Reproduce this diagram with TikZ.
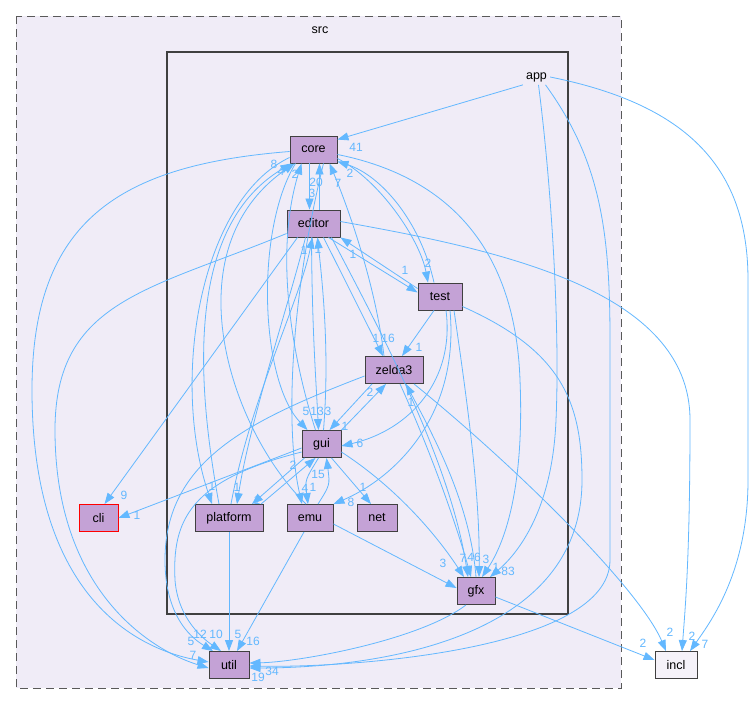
\documentclass[tikz,border=0pt]{standalone}
\usepackage{fontspec}
\setmainfont{Liberation Sans}
\usetikzlibrary{arrows.meta}
\definecolor{edgec}{HTML}{63B8FF}
\definecolor{clfill}{HTML}{F0ECF7}
\definecolor{nodefill}{HTML}{C4A2D6}
\definecolor{nodebord}{HTML}{404040}
\definecolor{exfill}{HTML}{F5F2F9}
\newcommand{\nodefnt}{\fontsize{12.5}{14}\selectfont}
\newcommand{\labfnt}{\fontsize{12}{13}\selectfont}
\begin{document}
\begin{tikzpicture}[x=1pt,y=-1pt,
  dir/.style={draw=nodebord, fill=nodefill, minimum height=27pt, inner sep=0pt, font=\nodefnt, line width=0.9pt},
  e/.style={draw=edgec, line width=0.8pt, -{Triangle[length=11pt,width=8pt]}},
  lab/.style={text=edgec, font=\labfnt, inner sep=0pt}]
\useasboundingbox (0,0) rectangle (755,705);
\fill[white] (0,0) rectangle (755,705);
% clusters
\draw[fill=clfill, draw=black!65, line width=1pt, dash pattern=on 8pt off 5pt] (16,16) rectangle (621,688);
\node[font=\nodefnt, inner sep=0pt] (srclab) at (320,30) {src};
\draw[fill=clfill, draw=nodebord, line width=2pt] (167,52) rectangle (568,614);
% nodes
\node[font=\nodefnt, inner sep=3pt] (app) at (536.5,77) {app};
\node[dir, minimum width=47pt] (core) at (313.5,149.5) {core};
\node[dir, minimum width=53pt] (editor) at (313.5,223.5) {editor};
\node[dir, minimum width=44pt] (test) at (440,296.5) {test};
\node[dir, minimum width=58pt] (zelda3) at (394,370) {zelda3};
\node[dir, minimum width=39pt] (gui) at (321.5,444) {gui};
\node[dir, minimum width=68pt] (platform) at (229,518) {platform};
\node[dir, minimum width=46pt] (emu) at (310,518) {emu};
\node[dir, minimum width=40pt] (net) at (377,518) {net};
\node[dir, minimum width=39pt, draw=red] (cli) at (98.5,518) {cli};
\node[dir, minimum width=40pt] (util) at (229,665) {util};
\node[dir, minimum width=38pt] (gfx) at (476,591) {gfx};
\node[dir, minimum width=42pt, fill=exfill] (incl) at (676,665) {incl};
% app edges
\draw[e] (app.south west) -- ([yshift=-4pt]core.north east);
\draw[e] ([xshift=2pt]app.south) .. controls (552,190) and (560,330) .. (556,420) .. controls (552,520) and (510,560) .. ([xshift=14pt]gfx.north);
\draw[e] ([xshift=9pt]app.south) .. controls (600,160) and (610,230) .. (610,340) -- (610,560) .. controls (610,650) and (350,668) .. ([yshift=-1pt]util.east);
\draw[e] (app.east) .. controls (690,105) and (748,170) .. (748,280) -- (748,480) .. controls (748,570) and (712,620) .. ([xshift=14pt]incl.north);
% core out
\draw[e] ([yshift=-2pt]core.west) .. controls (120,165) and (32,220) .. (32,390) .. controls (32,600) and (140,650) .. ([yshift=3pt]util.west);
\draw[e] ([xshift=-4pt]core.south) -- ([xshift=-4pt]editor.north);
\draw[e] ([yshift=-5pt]core.east) .. controls (440,175) and (515,240) .. (520,380) .. controls (525,500) and (500,550) .. ([xshift=6pt]gfx.north);
\draw[e] ([yshift=-9pt]core.east) .. controls (380,180) and (420,240) .. ([xshift=-12pt]test.north);
\draw[e] ([xshift=-18pt]core.south) .. controls (255,230) and (260,380) .. ([xshift=-14pt]gui.north);
\draw[e] ([yshift=-8pt]core.west) .. controls (200,200) and (170,380) .. ([xshift=-17pt]platform.north);
\draw[e] ([xshift=10pt]core.south) .. controls (290,300) and (285,430) .. ([xshift=-8pt]emu.north);
% into core
\draw[e] ([xshift=-10pt]platform.north) .. controls (200,400) and (180,230) .. ([xshift=-22pt]core.south);
\draw[e] ([xshift=-4pt]emu.north) .. controls (230,430) and (170,250) .. ([xshift=-19pt]core.south);
\draw[e] ([xshift=-6pt]gui.north) .. controls (290,350) and (275,250) .. ([xshift=-12pt]core.south);
\draw[e] ([xshift=6pt]editor.north) -- ([xshift=6pt]core.south);
\draw[e] ([xshift=-10pt]zelda3.north) .. controls (375,280) and (345,200) .. ([xshift=16pt]core.south);
\draw[e] ([xshift=-6pt]test.north) .. controls (420,220) and (380,175) .. ([yshift=-12pt]core.east);
% editor
\draw[e] ([xshift=15pt]editor.south) -- ([yshift=4pt]test.west);
\draw[e] ([yshift=8pt]test.west) -- (editor.south east);
\draw[e] ([xshift=10pt]editor.south) -- ([xshift=-11pt]zelda3.north);
\draw[e] ([xshift=-2pt]editor.south) .. controls (312,330) and (316,380) .. ([xshift=-3pt]gui.north);
\draw[e] ([xshift=-16pt]editor.south) -- ([xshift=6pt]cli.north);
\draw[e] ([yshift=-10pt]editor.west) .. controls (150,290) and (55,300) .. (55,430) .. controls (55,590) and (150,650) .. ([yshift=-3pt]util.west);
\draw[e] ([xshift=-8pt]editor.south) .. controls (290,300) and (250,420) .. ([xshift=8pt]platform.north);
\draw[e] ([xshift=18pt]editor.south) .. controls (380,330) and (450,460) .. ([xshift=-8pt]gfx.north);
\draw[e] ([yshift=2pt]editor.east) .. controls (500,250) and (690,290) .. (690,420) .. controls (690,560) and (685,610) .. ([xshift=6pt]incl.north);
% test
\draw[e] ([xshift=-6pt]test.south) -- ([xshift=8pt]zelda3.north);
\draw[e] ([xshift=6pt]test.south) .. controls (455,380) and (410,430) .. ([yshift=-2pt]gui.east);
\draw[e] ([xshift=10pt]test.south) .. controls (460,420) and (390,480) .. (emu.north east);
\draw[e] ([xshift=14pt]test.south) .. controls (470,420) and (480,500) .. ([xshift=3pt]gfx.north);
\draw[e] ([yshift=-10pt]test.east) .. controls (560,350) and (582,400) .. (582,480) .. controls (582,650) and (350,668) .. ([yshift=-3pt]util.east);
% zelda3
\draw[e] ([xshift=-22pt]zelda3.south) -- ([xshift=8pt]gui.north);
\draw[e] (gui.north east) -- ([xshift=-8pt]zelda3.south);
\draw[e] ([xshift=6pt]zelda3.south) .. controls (430,450) and (455,520) .. ([xshift=-5pt]gfx.north);
\draw[e] (gfx.north) .. controls (470,500) and (430,430) .. ([xshift=12pt]zelda3.south);
\draw[e] ([yshift=-6pt]zelda3.west) .. controls (250,420) and (165,460) .. (165,560) .. controls (165,620) and (195,640) .. ([xshift=-16pt]util.north);
\draw[e] ([xshift=20pt]zelda3.south) .. controls (520,470) and (640,590) .. ([xshift=-10pt]incl.north);
% gui
\draw[e] ([yshift=-4pt]gui.west) -- (cli.east);
\draw[e] ([xshift=-17pt]gui.south) -- ([xshift=23pt]platform.north);
\draw[e] ([xshift=32pt]platform.north) -- ([xshift=-6pt]gui.south);
\draw[e] ([xshift=-3pt]gui.south) .. controls (305,480) .. ([xshift=-2pt]emu.north);
\draw[e] ([xshift=8pt]emu.north) .. controls (330,485) .. ([xshift=5pt]gui.south);
\draw[e] ([xshift=10pt]gui.south) -- ([xshift=-6pt]net.north);
\draw[e] ([yshift=-8pt]gui.east) .. controls (400,490) and (440,540) .. ([xshift=-12pt]gfx.north);
\draw[e] ([yshift=-8pt]gui.west) .. controls (190,480) and (172,520) .. (175,580) .. controls (178,620) and (205,640) .. ([xshift=-8pt]util.north);
\draw[e] ([xshift=2pt]gui.north) .. controls (330,350) and (322,280) .. ([xshift=4pt]editor.south);
\draw[e] ([xshift=2pt]platform.north) .. controls (250,400) and (300,300) .. ([xshift=-1pt]editor.south);
% platform, emu, gfx
\draw[e] (platform.south) -- (util.north);
\draw[e] ([xshift=-6pt]emu.south) -- ([xshift=8pt]util.north);
\draw[e] ([yshift=-6pt]emu.east) -- ([yshift=3pt]gfx.west);
\draw[e] ([xshift=-10pt]gfx.south) .. controls (420,640) and (300,662) .. ([yshift=2pt]util.east);
\draw[e] ([yshift=-6pt]gfx.east) -- ([yshift=5pt]incl.west);
% labels
\node[lab] (l01) at (356,147) {41};
\node[lab] (l02) at (274,164) {8};
\node[lab] (l03) at (281,171) {4};
\node[lab] (l04) at (295,174) {2};
\node[lab] (l05) at (316,182) {20};
\node[lab] (l06) at (312,193) {3};
\node[lab] (l07) at (338,183) {7};
\node[lab] (l08) at (350,173) {2};
\node[lab] (l09) at (304,250) {1};
\node[lab] (l10) at (318,249) {1};
\node[lab] (l11) at (353,254) {1};
\node[lab] (l12) at (405,270) {1};
\node[lab] (l13) at (428,263) {2};
\node[lab] (l14) at (376,338) {1};
\node[lab] (l15) at (388,338) {16};
\node[lab] (l16) at (419,347) {1};
\node[lab] (l17) at (306,411) {5};
\node[lab] (l18) at (317,411) {13};
\node[lab] (l19) at (328,411) {3};
\node[lab] (l20) at (370,392) {2};
\node[lab] (l21) at (345,426) {1};
\node[lab] (l22) at (360,443) {6};
\node[lab] (l23) at (411,402) {1};
\node[lab] (l24) at (293,465) {2};
\node[lab] (l25) at (318,474) {15};
\node[lab] (l26) at (305,488) {4};
\node[lab] (l27) at (313,487) {1};
\node[lab] (l28) at (363,487) {1};
\node[lab] (l29) at (351,502) {8};
\node[lab] (l30) at (212,486) {1};
\node[lab] (l31) at (237,487) {1};
\node[lab] (l32) at (257,500) {1};
\node[lab] (l33) at (124,495) {9};
\node[lab] (l34) at (137,515) {1};
\node[lab] (l35) at (200,634) {12};
\node[lab] (l36) at (216,634) {10};
\node[lab] (l37) at (238,634) {5};
\node[lab] (l38) at (253,641) {16};
\node[lab] (l39) at (191,641) {5};
\node[lab] (l40) at (193,655) {7};
\node[lab] (l41) at (258,677) {19};
\node[lab] (l42) at (272,671) {34};
\node[lab] (l43) at (443,563) {3};
\node[lab] (l44) at (463,558) {7};
\node[lab] (l45) at (474,557) {46};
\node[lab] (l47) at (486,559) {3};
\node[lab] (l48) at (496,567) {1};
\node[lab] (l49) at (508,571) {83};
\node[lab] (l50) at (643,643) {2};
\node[lab] (l51) at (670,632) {2};
\node[lab] (l52) at (692,636) {2};
\node[lab] (l53) at (705,644) {7};
\end{tikzpicture}
\end{document}
